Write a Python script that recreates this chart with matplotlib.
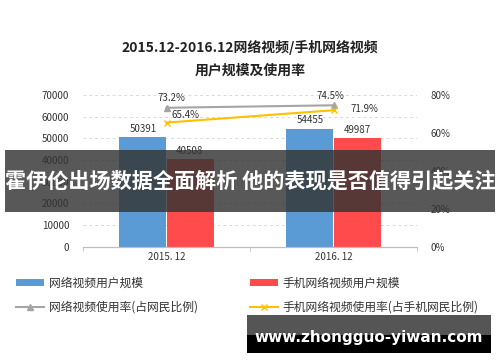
import matplotlib.pyplot as plt
from matplotlib.patches import Rectangle
import numpy as np

plt.rcParams['font.family'] = ['Noto Sans CJK SC', 'DejaVu Sans']

# données
categories = ['2015. 12', '2016. 12']
users_web = [50391, 54455]
users_mobile = [40508, 49987]
rate_web = [73.2, 74.5]
rate_mobile = [65.4, 71.9]

c_blue = '#5B9BD5'
c_red = '#FF4B4B'
c_gray = '#A5A5A5'
c_yellow = '#FFC000'

fig = plt.figure(figsize=(5, 3.62), dpi=100)
ax = fig.add_axes([0.166, 0.318, 0.668, 0.42])
ax2 = ax.twinx()

x = np.arange(len(categories))
w = 0.28
b1 = ax.bar(x - w / 2 - 0.003, users_web, w, color=c_blue, label='网络视频用户规模', zorder=2)
b2 = ax.bar(x + w / 2 + 0.003, users_mobile, w, color=c_red, label='手机网络视频用户规模', zorder=2)

for xi, v in zip(x - w / 2, users_web):
    ax.text(xi, v + 1500, str(v), ha='center', va='bottom', fontsize=7, color='#333333')
for xi, v in zip(x + w / 2, users_mobile):
    ax.text(xi, v + 1500, str(v), ha='center', va='bottom', fontsize=7, color='#333333')

ax.set_xlim(-0.5, 1.5)
ax.set_ylim(0, 70000)
ax.set_yticks(range(0, 70001, 10000))
ax.grid(axis='y', linestyle=(0, (3, 3)), color='#D9D9D9', linewidth=0.7, zorder=0)
ax.set_axisbelow(True)
ax.set_xticks(x)
ax.set_xticklabels(categories, fontsize=7, color='#333333')
ax.set_xticks([-0.5, 0.5, 1.5], minor=True)
ax.tick_params(axis='x', which='major', length=0, pad=4)
ax.tick_params(axis='x', which='minor', length=3, color='#BFBFBF')
ax.tick_params(axis='y', length=0, labelsize=7, labelcolor='#333333', pad=10)

l1, = ax2.plot(x, rate_web, color=c_gray, marker='^', markersize=5, linewidth=1.5,
               label='网络视频使用率(占网民比例)', zorder=3)
l2, = ax2.plot(x, rate_mobile, color=c_yellow, marker='x', markersize=5, linewidth=1.5,
               label='手机网络视频使用率(占手机网民比例)', zorder=3)
ax2.set_ylim(0, 80)
ax2.set_yticks(range(0, 81, 20))
ax2.set_yticklabels([f'{v}%' for v in range(0, 81, 20)])
ax2.tick_params(axis='y', length=0, labelsize=7, labelcolor='#333333', pad=10)

ax2.text(x[0] + 0.03, rate_web[0] + 2.5, f'{rate_web[0]}%', ha='center', va='bottom', fontsize=7, color='#333333')
ax2.text(x[1] - 0.02, rate_web[1] + 2.5, f'{rate_web[1]}%', ha='center', va='bottom', fontsize=7, color='#333333')
ax2.text(x[0] + 0.03, rate_mobile[0] + 1.5, f'{rate_mobile[0]}%', ha='left', va='bottom', fontsize=7, color='#333333')
ax2.text(x[1] + 0.1, rate_mobile[1] + 0.5, f'{rate_mobile[1]}%', ha='left', va='center', fontsize=7, color='#333333')

for a in (ax, ax2):
    for s in ('left', 'right', 'top'):
        a.spines[s].set_visible(False)
    a.spines['bottom'].set_color('#BFBFBF')

fig.text(0.5, 0.868, '2015.12-2016.12网络视频/手机网络视频', ha='center', va='center',
         fontsize=10, fontweight='bold', color='#222222')
fig.text(0.5, 0.805, '用户规模及使用率', ha='center', va='center',
         fontsize=10, fontweight='bold', color='#222222')

fig.legend(handles=[b1, l1, b2, l2], loc='center left', bbox_to_anchor=(0.022, 0.184, 0.945, 0.0),
           ncol=2, mode='expand', frameon=False, fontsize=8.5, handlelength=2.4, handleheight=0.5,
           labelcolor='#333333', labelspacing=0.95, borderaxespad=0, handletextpad=0.4)

# bandeau superposé
fig.patches.append(Rectangle((0.01, 0.414), 0.98, 0.172, transform=fig.transFigure,
                             facecolor='#333333', alpha=0.82, zorder=5))
fig.text(0.5, 0.5, '霍伊伦出场数据全面解析 他的表现是否值得引起关注', ha='center', va='center',
         fontsize=15.2, fontweight='bold', color='white', zorder=6)

fig.patches.append(Rectangle((0.494, 0.025), 0.488, 0.05, transform=fig.transFigure,
                             facecolor='black', zorder=5))
fig.patches.append(Rectangle((0.494, 0.075), 0.488, 0.055, transform=fig.transFigure,
                             facecolor='#555555', zorder=5))
fig.text(0.738, 0.069, 'www.zhongguo-yiwan.com', ha='center', va='center',
         fontsize=11, fontweight='bold', color='white', family='DejaVu Sans', zorder=6)

fig.savefig('out.png', dpi=100)
